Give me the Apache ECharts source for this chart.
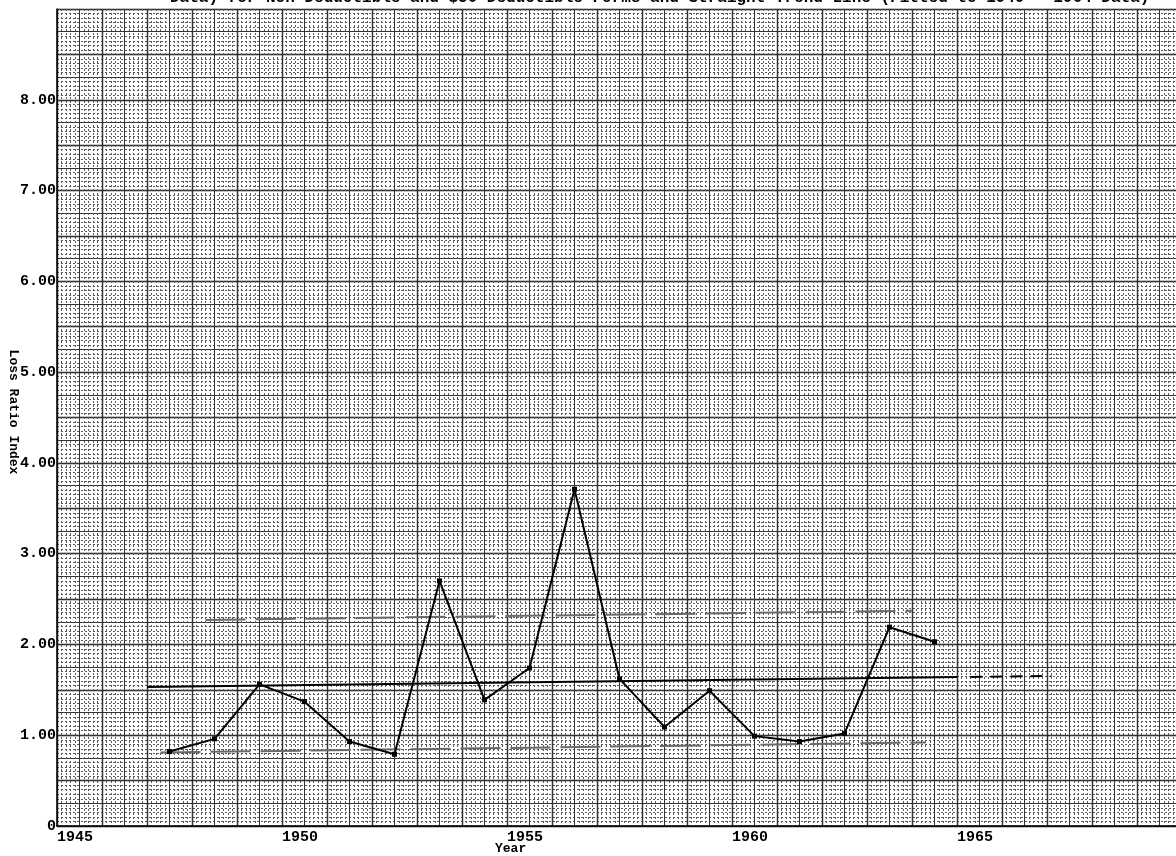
<!DOCTYPE html>
<html>
<head>
<meta charset="utf-8">
<script src="https://cdn.jsdelivr.net/npm/echarts@6/dist/echarts.min.js"></script>
<style>html,body{margin:0;padding:0;background:#fff}#c{width:1176px;height:856px}</style>
</head>
<body>
<div id="c"></div>
<script>
// Plotted at mid-year positions
const yearPos = [1947.5,1948.5,1949.5,1950.5,1951.5,1952.5,1953.5,1954.5,1955.5,1956.5,1957.5,1958.5,1959.5,1960.5,1961.5,1962.5,1963.5,1964.5];
const lossRatioIndex = [0.82,0.96,1.56,1.37,0.93,0.79,2.70,1.39,1.74,3.71,1.62,1.09,1.49,0.99,0.93,1.02,2.19,2.03];
const trendX = [1947.0, 1965.0];
const trendY = [1.53, 1.64];
const trendExtX = [1965.3, 1967.1];
const trendExtY = [1.642, 1.653];
const upperX = [1948.3, 1964.0];
const upperY = [2.27, 2.37];
const lowerX = [1947.3, 1964.3];
const lowerY = [0.81, 0.92];
const xTickLabels = [1945, 1950, 1955, 1960, 1965];
const yTickLabels = [0, 1, 2, 3, 4, 5, 6, 7, 8];
const titleText = 'Data) for Non-Deductible and $50 Deductible Forms and Straight Trend Line (Fitted to 1949 - 1964 Data)';
const yAxisTitle = 'Loss Ratio Index';
const xAxisTitle = 'Year';

const pair = (xs, ys) => xs.map((x, i) => [x, ys[i]]);
const FONT = '"Liberation Mono", "DejaVu Sans Mono", monospace';

const chart = echarts.init(document.getElementById('c'), null, {renderer: 'canvas'});
chart.setOption({
  backgroundColor: '#ffffff',
  animation: false,
  grid: [
    {left: 57, top: 9, width: 1125, height: 817, containLabel: false, outerBoundsMode: 'none'}
  ],
  xAxis: [
    {
      type: 'value', gridIndex: 0, min: 1945, max: 1970, interval: 1,
      axisLine: {show: true, onZero: false, lineStyle: {color: '#000', width: 1.5}},
      axisTick: {show: false},
      axisLabel: {
        show: true, align: 'left', margin: 4,
        fontFamily: FONT, fontWeight: 'bold', fontSize: 15, color: '#000',
        formatter: v => xTickLabels.indexOf(Math.round(v)) >= 0 && Math.abs(v - Math.round(v)) < 1e-6 ? String(Math.round(v)) : ''
      },
      splitLine: {show: true, lineStyle: {color: '#111', width: 1.4}},
      minorTick: {show: false, splitNumber: 10},
      minorSplitLine: {show: true, lineStyle: {color: '#5a5a5a', width: 1, type: [2, 2]}}
    },
    {
      type: 'value', gridIndex: 0, min: 1945, max: 1970, interval: 0.5,
      axisLine: {show: false}, axisTick: {show: false}, axisLabel: {show: false},
      splitLine: {show: true, lineStyle: {color: '#333', width: 1}}
    }
  ],
  yAxis: [
    {
      type: 'value', gridIndex: 0, min: 0, max: 9, interval: 0.5,
      axisLine: {show: true, lineStyle: {color: '#000', width: 1.5}},
      axisTick: {show: false},
      axisLabel: {
        show: true, margin: 1,
        fontFamily: FONT, fontWeight: 'bold', fontSize: 15, color: '#000',
        formatter: v => {
          const r = Math.round(v);
          if (Math.abs(v - r) > 1e-6 || yTickLabels.indexOf(r) < 0) return '';
          return r === 0 ? '0' : r.toFixed(2);
        }
      },
      splitLine: {show: true, lineStyle: {color: '#111', width: 1.4}},
      minorTick: {show: false, splitNumber: 10},
      minorSplitLine: {show: true, lineStyle: {color: '#5a5a5a', width: 1, type: [2, 2]}}
    },
    {
      type: 'value', gridIndex: 0, min: 0, max: 9, interval: 0.25,
      axisLine: {show: false}, axisTick: {show: false}, axisLabel: {show: false},
      splitLine: {show: true, lineStyle: {color: '#333', width: 1}}
    }
  ],
  graphic: [
    {
      type: 'text', left: 170, top: -10, z: 100,
      style: {text: titleText, font: 'bold 16px ' + FONT, fill: '#000'}
    },
    {
      type: 'text', left: 495, top: 842, z: 100,
      style: {text: xAxisTitle, font: 'bold 13px ' + FONT, fill: '#000'}
    },
    {
      type: 'text', x: 13, y: 412, rotation: -Math.PI / 2, z: 100,
      style: {text: yAxisTitle, font: 'bold 13px ' + FONT, fill: '#000', align: 'center', verticalAlign: 'middle'}
    }
  ],
  series: [
    {
      name: 'Upper band', type: 'line', xAxisIndex: 0, yAxisIndex: 0,
      data: pair(upperX, upperY), symbol: 'none', silent: true, z: 3,
      lineStyle: {color: '#6a6a6a', width: 2, type: [40, 10]}
    },
    {
      name: 'Lower band', type: 'line', xAxisIndex: 0, yAxisIndex: 0,
      data: pair(lowerX, lowerY), symbol: 'none', silent: true, z: 3,
      lineStyle: {color: '#6a6a6a', width: 2, type: [40, 10]}
    },
    {
      name: 'Trend', type: 'line', xAxisIndex: 0, yAxisIndex: 0,
      data: pair(trendX, trendY), symbol: 'none', silent: true, z: 4,
      lineStyle: {color: '#000', width: 2}
    },
    {
      name: 'Trend extension', type: 'line', xAxisIndex: 0, yAxisIndex: 0,
      data: pair(trendExtX, trendExtY), symbol: 'none', silent: true, z: 4,
      lineStyle: {color: '#000', width: 2, type: [12, 8]}
    },
    {
      name: 'Loss Ratio Index', type: 'line', xAxisIndex: 0, yAxisIndex: 0,
      data: pair(yearPos, lossRatioIndex), z: 5,
      symbol: 'rect', symbolSize: 5, showSymbol: true,
      itemStyle: {color: '#000'},
      lineStyle: {color: '#000', width: 2}
    }
  ]
});
</script>
</body>
</html>
